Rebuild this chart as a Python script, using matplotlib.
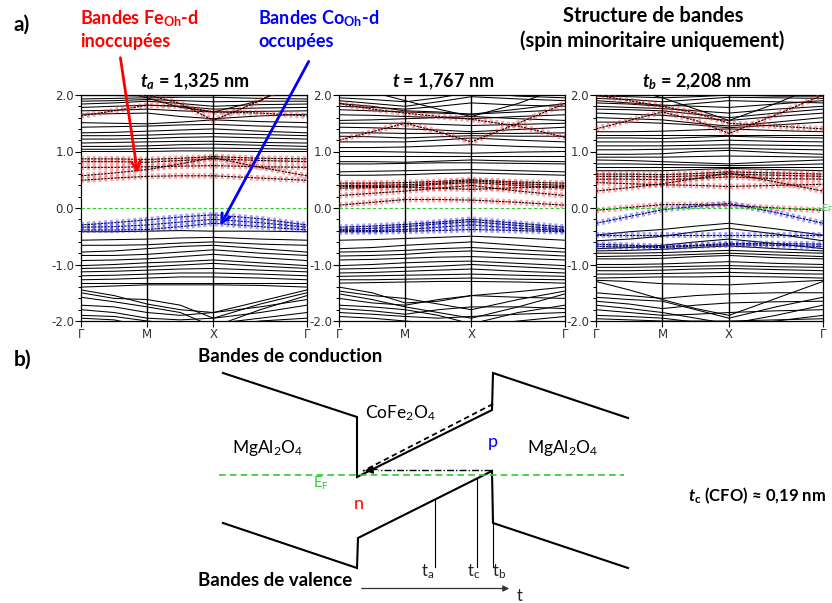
import matplotlib
matplotlib.use('Agg')
import matplotlib.pyplot as plt
from matplotlib.ticker import MultipleLocator, FixedLocator, FixedFormatter

plt.rcParams['font.family'] = ['Lato', 'DejaVu Sans']
plt.rcParams['mathtext.fontset'] = 'custom'
plt.rcParams['mathtext.rm'] = 'Lato'
plt.rcParams['mathtext.it'] = 'Lato:italic'
plt.rcParams['mathtext.bf'] = 'Lato:bold'
plt.rcParams['mathtext.bfit'] = 'Lato:italic:bold'
plt.rcParams['axes.unicode_minus'] = False

# ---------------- data ----------------
# k-path positions: Γ, ½ΓM, M, ½MX, X, ½XΓ, Γ
k_pos = [0, 0.5, 1, 1.5, 2, 2.707, 3.414]
k_ticks = [0, 1, 2, 3.414]
k_labels = ['Γ', 'M', 'X', 'Γ']
y_ticks = [2.0, 1.0, 0.0, -1.0, -2.0]
y_labels = ['2.0', '1.0', '0.0', '-1.0', '-2.0']

panel_titles = [r'$\mathbfit{t}_{\mathbfit{a}}$ = 1,325 nm',
                r'$\mathbfit{t}$ = 1,767 nm',
                r'$\mathbfit{t}_{\mathbfit{b}}$ = 2,208 nm']

# panel 1 : t_a = 1,325 nm
p1_black = [
    [1.99, 1.99, 1.98, 1.99, 2.00, 1.99, 1.99],
    [1.93, 1.94, 1.95, 1.96, 1.96, 1.94, 1.93],
    [1.89, 1.90, 1.92, 1.90, 1.88, 1.89, 1.89],
    [1.84, 1.86, 1.89, 1.85, 1.80, 1.83, 1.84],
    [1.78, 1.80, 1.82, 1.80, 1.75, 1.77, 1.78],
    [1.72, 1.73, 1.75, 1.72, 1.70, 1.71, 1.72],
    [1.66, 1.67, 1.68, 1.62, 1.58, 1.63, 1.66],
    [1.51, 1.50, 1.49, 1.52, 1.56, 1.53, 1.51],
    [1.43, 1.44, 1.45, 1.47, 1.48, 1.45, 1.43],
    [1.33, 1.34, 1.36, 1.38, 1.40, 1.36, 1.33],
    [1.28, 1.28, 1.29, 1.31, 1.32, 1.30, 1.28],
    [1.22, 1.22, 1.23, 1.25, 1.26, 1.24, 1.22],
    [1.15, 1.16, 1.17, 1.18, 1.18, 1.16, 1.15],
    [1.09, 1.09, 1.10, 1.12, 1.13, 1.11, 1.09],
    [1.04, 1.04, 1.05, 1.06, 1.06, 1.05, 1.04],
    [1.00, 1.00, 1.00, 1.01, 1.01, 1.00, 1.00],
    [2.30, 2.10, 1.95, 1.78, 1.70, 1.90, 2.30],
    [-0.42, -0.42, -0.41, -0.40, -0.41, -0.41, -0.42],
    [-0.57, -0.56, -0.55, -0.53, -0.52, -0.55, -0.57],
    [-0.66, -0.66, -0.65, -0.62, -0.60, -0.64, -0.66],
    [-0.78, -0.76, -0.72, -0.68, -0.66, -0.72, -0.78],
    [-0.84, -0.84, -0.82, -0.78, -0.74, -0.80, -0.84],
    [-0.93, -0.92, -0.90, -0.86, -0.82, -0.88, -0.93],
    [-1.02, -1.00, -0.97, -0.95, -0.92, -0.97, -1.02],
    [-1.07, -1.06, -1.04, -1.01, -0.98, -1.03, -1.07],
    [-1.13, -1.12, -1.10, -1.08, -1.07, -1.10, -1.13],
    [-1.20, -1.19, -1.17, -1.15, -1.15, -1.17, -1.20],
    [-1.27, -1.26, -1.24, -1.22, -1.22, -1.24, -1.27],
    [-1.33, -1.33, -1.33, -1.33, -1.33, -1.33, -1.33],
    [-1.40, -1.38, -1.36, -1.36, -1.36, -1.37, -1.40],
    [-1.45, -1.55, -1.70, -1.80, -1.85, -1.65, -1.45],
    [-1.50, -1.60, -1.62, -1.72, -1.95, -1.70, -1.50],
    [-1.58, -1.66, -1.75, -1.85, -2.10, -1.80, -1.55],
    [-1.72, -1.75, -1.85, -1.90, -1.85, -1.75, -1.62],
    [-1.80, -1.85, -1.95, -1.98, -1.95, -1.85, -1.72],
    [-1.90, -1.92, -2.00, -2.05, -2.05, -1.95, -1.85],
    [-1.95, -1.98, -2.10, -2.10, -2.10, -2.00, -1.95],
]
p1_red = [
    [0.87, 0.87, 0.86, 0.88, 0.91, 0.88, 0.87],
    [0.82, 0.82, 0.81, 0.84, 0.87, 0.84, 0.82],
    [0.72, 0.72, 0.73, 0.74, 0.75, 0.73, 0.72],
    [0.57, 0.62, 0.68, 0.78, 0.89, 0.72, 0.57],
    [0.49, 0.53, 0.56, 0.57, 0.57, 0.53, 0.49],
    [1.63, 1.72, 1.82, 1.80, 1.70, 1.68, 1.63],
    [2.40, 2.15, 2.00, 1.85, 1.55, 1.90, 2.40],
]
p1_blue = [
    [-0.30, -0.26, -0.21, -0.16, -0.12, -0.19, -0.30],
    [-0.39, -0.39, -0.38, -0.33, -0.27, -0.33, -0.39],
    [-0.34, -0.33, -0.30, -0.25, -0.20, -0.26, -0.34],
]

# panel 2 : t = 1,767 nm
p2_black = [
    [1.95, 1.92, 1.88, 1.95, 2.05, 1.98, 1.95],
    [1.90, 1.85, 1.80, 1.88, 1.97, 1.93, 1.90],
    [1.85, 1.80, 1.72, 1.70, 1.66, 1.75, 1.85],
    [1.80, 1.78, 1.75, 1.80, 1.86, 1.82, 1.80],
    [1.74, 1.72, 1.70, 1.68, 1.66, 1.70, 1.74],
    [1.65, 1.64, 1.62, 1.60, 1.58, 1.62, 1.65],
    [1.55, 1.56, 1.58, 1.60, 1.62, 1.58, 1.55],
    [1.50, 1.50, 1.50, 1.48, 1.46, 1.48, 1.50],
    [1.43, 1.42, 1.40, 1.38, 1.35, 1.39, 1.43],
    [1.33, 1.33, 1.32, 1.32, 1.32, 1.32, 1.33],
    [1.27, 1.26, 1.24, 1.26, 1.28, 1.27, 1.27],
    [1.17, 1.17, 1.17, 1.20, 1.24, 1.20, 1.17],
    [1.07, 1.07, 1.08, 1.10, 1.12, 1.09, 1.07],
    [1.00, 1.00, 0.99, 0.98, 0.97, 0.99, 1.00],
    [0.92, 0.92, 0.92, 0.92, 0.92, 0.92, 0.92],
    [0.82, 0.82, 0.81, 0.83, 0.85, 0.83, 0.82],
    [0.78, 0.78, 0.79, 0.80, 0.80, 0.79, 0.78],
    [0.64, 0.65, 0.66, 0.67, 0.68, 0.66, 0.64],
    [0.58, 0.58, 0.59, 0.61, 0.62, 0.60, 0.58],
    [2.20, 2.05, 1.90, 1.75, 1.62, 1.85, 2.15],
    [-0.57, -0.56, -0.54, -0.52, -0.50, -0.53, -0.57],
    [-0.72, -0.70, -0.66, -0.63, -0.60, -0.66, -0.72],
    [-0.78, -0.77, -0.75, -0.72, -0.70, -0.74, -0.78],
    [-0.85, -0.84, -0.82, -0.78, -0.76, -0.81, -0.85],
    [-0.92, -0.91, -0.89, -0.87, -0.86, -0.89, -0.92],
    [-1.02, -1.00, -0.97, -0.95, -0.94, -0.98, -1.02],
    [-1.08, -1.07, -1.05, -1.03, -1.00, -1.04, -1.08],
    [-1.15, -1.14, -1.12, -1.10, -1.08, -1.12, -1.15],
    [-1.21, -1.20, -1.19, -1.18, -1.17, -1.19, -1.21],
    [-1.27, -1.27, -1.26, -1.25, -1.24, -1.26, -1.27],
    [-1.33, -1.32, -1.31, -1.30, -1.30, -1.31, -1.33],
    [-1.40, -1.50, -1.68, -1.65, -1.55, -1.48, -1.40],
    [-1.47, -1.55, -1.60, -1.70, -1.80, -1.62, -1.47],
    [-1.52, -1.62, -1.75, -1.85, -1.95, -1.75, -1.52],
    [-1.60, -1.68, -1.72, -1.62, -1.55, -1.58, -1.60],
    [-1.72, -1.75, -1.80, -1.90, -2.05, -1.85, -1.72],
    [-1.78, -1.82, -1.88, -1.80, -1.75, -1.75, -1.78],
    [-1.85, -1.88, -1.92, -1.95, -1.92, -1.88, -1.85],
    [-1.92, -1.95, -2.00, -2.05, -2.10, -2.00, -1.92],
]
p2_red = [
    [0.05, 0.10, 0.15, 0.15, 0.14, 0.10, 0.05],
    [0.22, 0.26, 0.30, 0.35, 0.40, 0.30, 0.22],
    [0.35, 0.36, 0.38, 0.42, 0.45, 0.40, 0.35],
    [0.40, 0.40, 0.41, 0.44, 0.48, 0.43, 0.40],
    [0.44, 0.44, 0.45, 0.47, 0.50, 0.46, 0.44],
    [0.38, 0.38, 0.37, 0.35, 0.33, 0.36, 0.38],
    [1.20, 1.35, 1.50, 1.35, 1.17, 1.50, 1.85],
    [1.85, 1.75, 1.68, 1.62, 1.57, 1.45, 1.25],
]
p2_blue = [
    [-0.34, -0.32, -0.29, -0.25, -0.20, -0.27, -0.34],
    [-0.38, -0.36, -0.33, -0.28, -0.24, -0.31, -0.38],
    [-0.42, -0.42, -0.41, -0.40, -0.38, -0.40, -0.42],
    [-0.40, -0.40, -0.38, -0.34, -0.30, -0.36, -0.40],
]

# panel 3 : t_b = 2,208 nm
p3_black = [
    [1.98, 1.97, 1.95, 1.97, 2.00, 1.98, 1.98],
    [1.94, 1.92, 1.88, 1.92, 1.96, 1.95, 1.94],
    [1.90, 1.86, 1.82, 1.80, 1.78, 1.84, 1.90],
    [1.86, 1.84, 1.80, 1.85, 1.90, 1.88, 1.86],
    [1.80, 1.78, 1.76, 1.72, 1.68, 1.75, 1.80],
    [1.75, 1.74, 1.72, 1.66, 1.60, 1.68, 1.75],
    [1.68, 1.66, 1.64, 1.60, 1.55, 1.62, 1.68],
    [1.60, 1.58, 1.56, 1.50, 1.45, 1.52, 1.60],
    [1.52, 1.52, 1.50, 1.47, 1.42, 1.47, 1.52],
    [1.35, 1.35, 1.36, 1.38, 1.40, 1.37, 1.35],
    [1.30, 1.30, 1.30, 1.30, 1.30, 1.30, 1.30],
    [1.24, 1.24, 1.23, 1.25, 1.27, 1.25, 1.24],
    [1.17, 1.17, 1.17, 1.18, 1.20, 1.18, 1.17],
    [1.10, 1.10, 1.10, 1.11, 1.12, 1.11, 1.10],
    [1.03, 1.03, 1.04, 1.05, 1.06, 1.04, 1.03],
    [0.95, 0.95, 0.96, 1.00, 1.02, 0.98, 0.95],
    [0.90, 0.90, 0.90, 0.91, 0.92, 0.91, 0.90],
    [0.85, 0.84, 0.82, 0.80, 0.78, 0.82, 0.85],
    [0.78, 0.78, 0.77, 0.76, 0.75, 0.76, 0.78],
    [0.72, 0.72, 0.72, 0.72, 0.72, 0.72, 0.72],
    [0.66, 0.66, 0.66, 0.68, 0.70, 0.68, 0.66],
    [2.25, 2.10, 1.95, 1.75, 1.55, 1.85, 2.20],
    [-0.48, -0.42, -0.38, -0.32, -0.27, -0.37, -0.48],
    [-0.58, -0.55, -0.50, -0.42, -0.36, -0.46, -0.58],
    [-0.72, -0.70, -0.66, -0.60, -0.55, -0.63, -0.72],
    [-0.76, -0.75, -0.73, -0.70, -0.67, -0.72, -0.76],
    [-0.80, -0.80, -0.79, -0.77, -0.75, -0.78, -0.80],
    [-0.86, -0.85, -0.84, -0.82, -0.80, -0.83, -0.86],
    [-0.90, -0.90, -0.89, -0.86, -0.84, -0.88, -0.90],
    [-1.00, -1.00, -0.99, -0.97, -0.95, -0.98, -1.00],
    [-1.05, -1.05, -1.04, -1.03, -1.02, -1.04, -1.05],
    [-1.11, -1.11, -1.10, -1.08, -1.07, -1.09, -1.11],
    [-1.17, -1.17, -1.16, -1.15, -1.14, -1.16, -1.17],
    [-1.24, -1.23, -1.22, -1.22, -1.21, -1.22, -1.24],
    [-1.28, -1.30, -1.34, -1.35, -1.36, -1.32, -1.28],
    [-1.30, -1.45, -1.62, -1.78, -1.90, -1.60, -1.30],
    [-1.50, -1.55, -1.60, -1.55, -1.52, -1.50, -1.50],
    [-1.58, -1.62, -1.65, -1.80, -1.95, -1.75, -1.58],
    [-1.65, -1.70, -1.78, -1.72, -1.68, -1.66, -1.65],
    [-1.72, -1.78, -1.85, -1.95, -2.05, -1.90, -1.72],
    [-1.80, -1.85, -1.90, -1.88, -1.85, -1.82, -1.80],
    [-1.90, -1.92, -1.95, -2.02, -2.10, -2.00, -1.90],
    [-1.96, -1.98, -2.00, -2.00, -2.00, -1.98, -1.96],
]
p3_red = [
    [0.60, 0.60, 0.59, 0.61, 0.64, 0.62, 0.60],
    [0.56, 0.56, 0.55, 0.57, 0.60, 0.58, 0.56],
    [0.51, 0.51, 0.50, 0.52, 0.55, 0.52, 0.51],
    [0.30, 0.36, 0.43, 0.52, 0.62, 0.46, 0.30],
    [0.45, 0.43, 0.41, 0.40, 0.38, 0.40, 0.42],
    [-0.04, 0.01, 0.06, 0.06, 0.05, 0.00, -0.04],
    [1.40, 1.55, 1.70, 1.55, 1.32, 1.65, 2.00],
    [2.00, 1.90, 1.80, 1.68, 1.50, 1.45, 1.40],
]
p3_blue = [
    [-0.27, -0.15, -0.03, 0.03, 0.08, -0.08, -0.27],
    [-0.47, -0.47, -0.47, -0.47, -0.47, -0.47, -0.47],
    [-0.64, -0.66, -0.68, -0.66, -0.63, -0.63, -0.64],
    [-0.68, -0.69, -0.70, -0.67, -0.65, -0.66, -0.68],
]

# ---------------- figure ----------------
W, H = 832, 603
fig = plt.figure(figsize=(W / 100, H / 100), dpi=100)
GREEN = '#2ecc2e'


def add_px_axes(x0, y0, x1, y1):
    return fig.add_axes([x0 / W, 1 - y1 / H, (x1 - x0) / W, (y1 - y0) / H])


def draw_panel(ax, black, red, blue):
    for b in black:
        ax.plot(k_pos, b, color='black', lw=0.75, zorder=2)
    for b in red:
        ax.plot(k_pos, b, color='#ff3030', lw=4.2, alpha=0.45,
                ls=(0, (0.5, 0.5)), zorder=3)
        ax.plot(k_pos, b, color='black', lw=0.8, ls=(0, (2, 1)), zorder=4)
    for b in blue:
        ax.plot(k_pos, b, color='#3030ff', lw=4.2, alpha=0.45,
                ls=(0, (0.5, 0.5)), zorder=3)
        ax.plot(k_pos, b, color='#000040', lw=0.8, ls=(0, (2, 1)), zorder=4)
    ax.axhline(0, color=GREEN, lw=0.8, ls=(0, (3, 2)), zorder=5)
    for kx in k_ticks[1:3]:
        ax.axvline(kx, color='black', lw=1.0, zorder=5)
    ax.set_xlim(k_ticks[0], k_ticks[-1])
    ax.set_ylim(-2, 2)
    ax.xaxis.set_major_locator(FixedLocator(k_ticks))
    ax.xaxis.set_major_formatter(FixedFormatter(k_labels))
    ax.yaxis.set_major_locator(FixedLocator(y_ticks))
    ax.yaxis.set_major_formatter(FixedFormatter(y_labels))
    ax.yaxis.set_minor_locator(MultipleLocator(0.2))
    ax.tick_params(axis='both', which='major', direction='out', length=4,
                   width=0.8, labelsize=8.5, labelcolor='#333333', pad=1)
    ax.tick_params(axis='y', which='minor', direction='out', length=2.5, width=0.7)
    for lab in ax.get_xticklabels() + ax.get_yticklabels():
        lab.set_fontfamily('DejaVu Sans')
    for s in ax.spines.values():
        s.set_linewidth(0.9)


panels = [(81, 307, p1_black, p1_red, p1_blue),
          (339, 565, p2_black, p2_red, p2_blue),
          (596, 823, p3_black, p3_red, p3_blue)]
for (x0, x1, bk, rd, bl) in panels:
    ax = add_px_axes(x0, 95, x1, 321)
    draw_panel(ax, bk, rd, bl)

# overlay axes in pixel coordinates
ov = fig.add_axes([0, 0, 1, 1])
ov.set_xlim(0, W)
ov.set_ylim(H, 0)
ov.axis('off')

# ---- part a) texts ----
ov.text(14, 25, 'a)', fontsize=15, fontweight='bold', va='center', ha='left')
ov.text(80, 19, r'Bandes Fe$_{\mathbf{Oh}}$-d', fontsize=13, fontweight='bold',
        color='#ff0000', va='center', ha='left')
ov.text(80, 41, 'inoccupées', fontsize=13, fontweight='bold',
        color='#ff0000', va='center', ha='left')
ov.text(258, 19, r'Bandes Co$_{\mathbf{Oh}}$-d', fontsize=13, fontweight='bold',
        color='#0000ff', va='center', ha='left')
ov.text(258, 41, 'occupées', fontsize=13, fontweight='bold',
        color='#0000ff', va='center', ha='left')
ov.text(653, 16, 'Structure de bandes', fontsize=14.5, fontweight='bold',
        va='center', ha='center')
ov.text(652, 41, '(spin minoritaire uniquement)', fontsize=14.5, fontweight='bold',
        va='center', ha='center')
for cx, title in zip([195, 443, 697], panel_titles):
    ov.text(cx, 82, title, fontsize=13, fontweight='bold', va='center', ha='center')

ov.annotate('', xy=(138, 176), xytext=(120, 55),
            arrowprops=dict(arrowstyle='->', color='#ff0000', lw=2, mutation_scale=16))
ov.annotate('', xy=(219, 228), xytext=(310, 59),
            arrowprops=dict(arrowstyle='->', color='#0000ff', lw=2, mutation_scale=16))
ov.text(821, 209, r'E$_\mathregular{F}$', fontsize=7.5, color=GREEN, va='center', ha='left')

# ---- part b) schematic ----
ov.text(14, 360, 'b)', fontsize=15, fontweight='bold', va='center', ha='left')
ov.text(198, 357, 'Bandes de conduction', fontsize=13.5, fontweight='bold',
        va='center', ha='left')
ov.text(198, 580, 'Bandes de valence', fontsize=13.5, fontweight='bold',
        va='center', ha='left')

cb_x = [223, 357, 357, 492, 493, 628]
cb_y = [373, 417, 477, 410, 373, 418]
vb_x = [223, 357, 358, 492, 493, 628]
vb_y = [523, 568, 538, 471, 523, 568]
ov.plot(cb_x, cb_y, color='black', lw=1.5, solid_joinstyle='miter')
ov.plot(vb_x, vb_y, color='black', lw=1.5, solid_joinstyle='miter')

ov.plot([219, 624], [474.5, 474.5], color=GREEN, lw=1.2, ls=(0, (4, 2.5)))

# tunnelling arrows
ov.plot([493, 363], [404, 471], color='black', lw=1.3, ls=(0, (3, 2)))
ov.plot([491, 378], [470, 470], color='black', lw=1.0, ls=(0, (5, 1.5, 1, 1.5)))
ov.annotate('', xy=(362, 471), xytext=(380, 469),
            arrowprops=dict(arrowstyle='-|>', color='black', lw=1.0, mutation_scale=12))

# thickness markers
ov.plot([435, 435], [500, 567], color='black', lw=0.8)
ov.plot([476.5, 476.5], [479, 567], color='black', lw=0.8)
ov.plot([493, 493], [523, 567], color='black', lw=0.8)
ov.text(428, 572, r't$_\mathregular{a}$', fontsize=12, va='center', ha='center', color='#222222')
ov.text(474, 572, r't$_\mathregular{c}$', fontsize=12, va='center', ha='center', color='#222222')
ov.text(499, 572, r't$_\mathregular{b}$', fontsize=12, va='center', ha='center', color='#222222')

ov.annotate('', xy=(512, 588.5), xytext=(359, 588.5),
            arrowprops=dict(arrowstyle='-|>', color='#333333', lw=0.9, mutation_scale=9))
ov.text(520, 596, 't', fontsize=12, va='center', ha='center', color='#222222')

ov.text(400, 413, r'CoFe$_2$O$_4$', fontsize=12.5, va='center', ha='center')
ov.text(268, 448, r'MgAl$_2$O$_4$', fontsize=12.5, va='center', ha='center')
ov.text(563, 448, r'MgAl$_2$O$_4$', fontsize=12.5, va='center', ha='center')
ov.text(493, 442, 'p', fontsize=13, color='#0000ff', va='center', ha='center')
ov.text(359, 504, 'n', fontsize=13, color='#ff0000', va='center', ha='center')
ov.text(321, 483, r'E$_\mathregular{F}$', fontsize=10.5, color=GREEN, va='center', ha='center')

ov.text(826, 496, r'$\mathbfit{t}_{\mathbf{c}}$ (CFO) ≈ 0,19 nm', fontsize=12,
        fontweight='bold', va='center', ha='right')

fig.savefig('out.png', dpi=100)
